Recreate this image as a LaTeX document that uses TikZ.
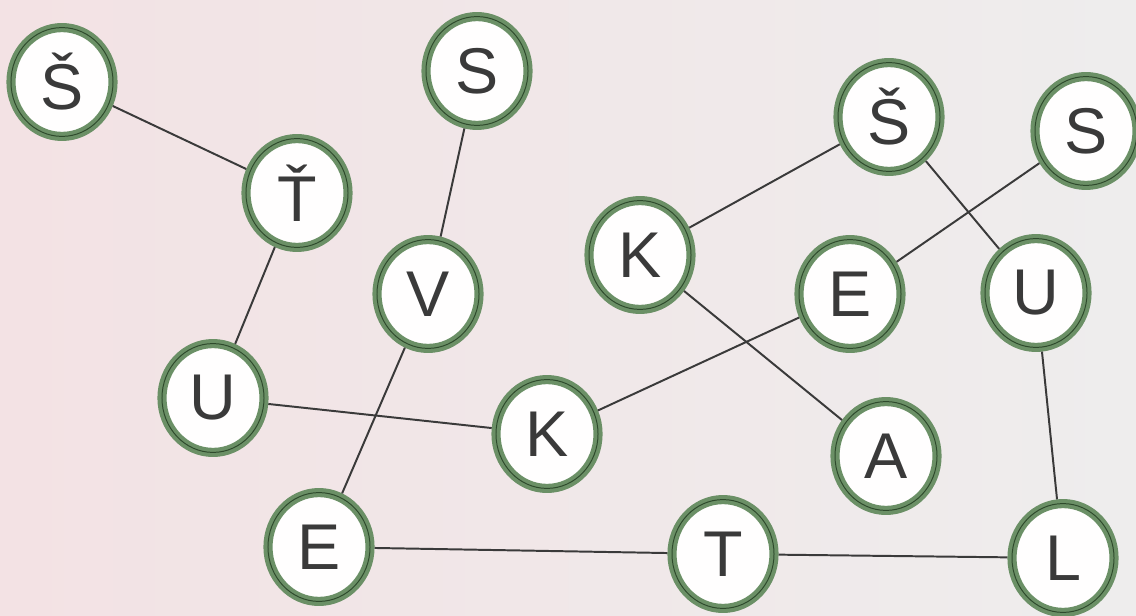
\documentclass[tikz,border=0pt]{standalone}
\usepackage{fontspec}
\setmainfont{Liberation Sans}
\usepackage{xcolor}
\usetikzlibrary{shapes.geometric}
\definecolor{ringgreen}{HTML}{6b9066}
\definecolor{ringdark}{HTML}{2e4a2c}
\definecolor{inkgray}{HTML}{3a3a3a}
\definecolor{paperpink}{HTML}{f3e2e4}
\definecolor{papergray}{HTML}{eeeded}

\tikzset{
	letter/.style={ellipse, minimum width=2.55cm, minimum height=2.72cm, inner sep=0pt,
		draw=ringgreen, line width=6.5pt, fill=white!97!paperpink,
		postaction={draw=ringdark, line width=0.7pt},
		text=inkgray, font=\fontsize{46}{50}\selectfont},
	link/.style={color=inkgray, line width=1.4pt}
}

\begin{document}
\begin{tikzpicture}[x=0.025cm, y=-0.025cm]
		\shade[left color=paperpink, right color=papergray] (0,0) rectangle (1136,616);
		\useasboundingbox (0,0) rectangle (1136,616);
		% left word
		\node[letter] (sh1) at (62,82) {Š};
		\node[letter] (tc) at (297,193) {Ť};
		\node[letter] (u1) at (213,398) {U};
		\node[letter] (k1) at (547,434) {K};
		\node[letter] (s1) at (477,71) {S};
		\node[letter] (v) at (428,294) {V};
		\node[letter] (e1) at (319,547) {E};
		\node[letter] (t) at (723,554) {T};
		% right word
		\node[letter] (sh2) at (889,117) {Š};
		\node[letter] (s2) at (1086,131) {S};
		\node[letter] (k2) at (640,255) {K};
		\node[letter] (e2) at (850,294) {E};
		\node[letter] (u2) at (1036,293) {U};
		\node[letter] (a) at (886,456) {A};
		\node[letter] (l) at (1063,558) {L};
		\draw[link] (sh1) -- (tc);
		\draw[link] (tc) -- (u1);
		\draw[link] (u1) -- (k1);
		\draw[link] (k1) -- (e2);
		\draw[link] (e2) -- (s2);
		\draw[link] (s1) -- (v);
		\draw[link] (v) -- (e1);
		\draw[link] (e1) -- (t);
		\draw[link] (t) -- (l);
		\draw[link] (l) -- (u2);
		\draw[link] (u2) -- (sh2);
		\draw[link] (sh2) -- (k2);
		\draw[link] (k2) -- (a);
	\end{tikzpicture}
\end{document}
